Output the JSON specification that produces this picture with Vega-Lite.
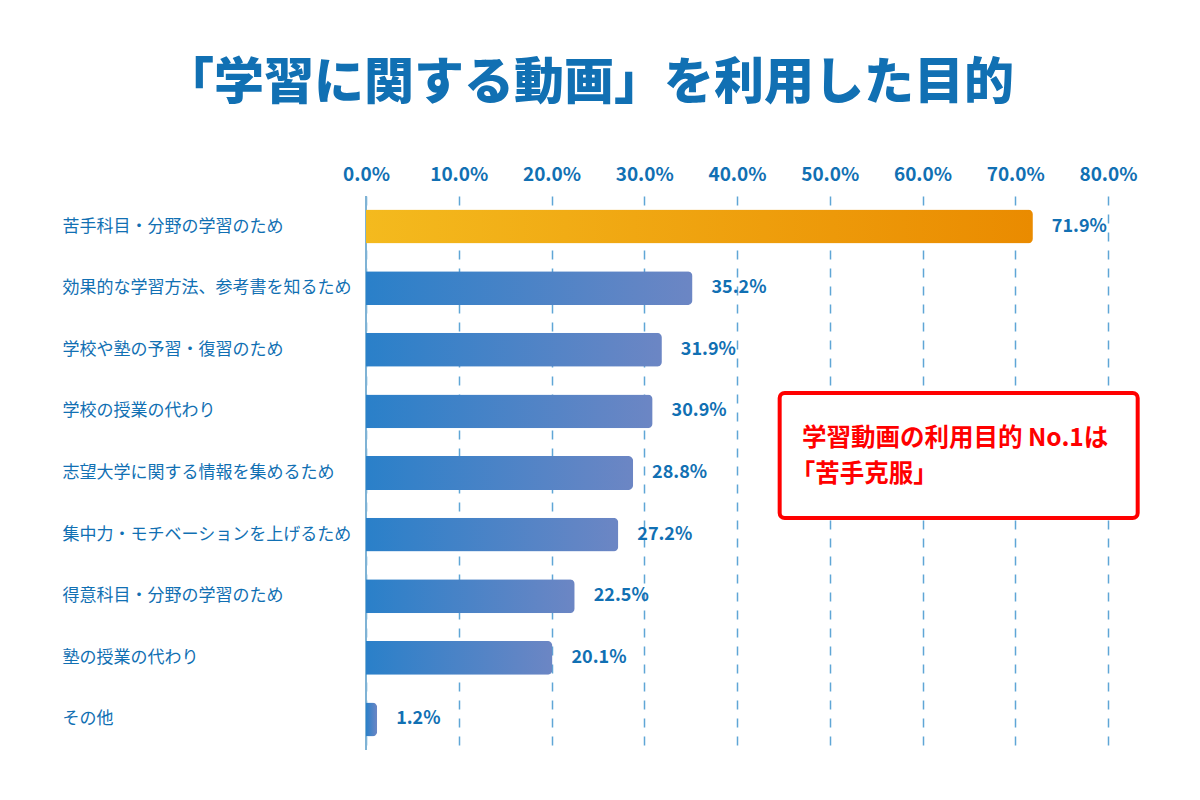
{
  "$schema": "https://vega.github.io/schema/vega-lite/v6.json",
  "width": 742,
  "height": 554,
  "autosize": {"type": "none"},
  "padding": {"left": 366, "top": 196, "right": 92, "bottom": 50},
  "background": "white",
  "config": {
    "font": "Noto Sans CJK JP",
    "view": {"stroke": null}
  },
  "title": {
    "text": "「学習に関する動画」を利用した目的",
    "font": "Noto Sans CJK JP",
    "fontSize": 50,
    "fontWeight": 900,
    "color": "#1170b3",
    "anchor": "middle",
    "frame": "group",
    "dx": -148,
    "offset": 56
  },
  "datasets": {
    "bars": [
      {"purpose": "苦手科目・分野の学習のため", "pct": 71.9, "label": "71.9%", "top": "yes"},
      {"purpose": "効果的な学習方法、参考書を知るため", "pct": 35.2, "label": "35.2%", "top": "no"},
      {"purpose": "学校や塾の予習・復習のため", "pct": 31.9, "label": "31.9%", "top": "no"},
      {"purpose": "学校の授業の代わり", "pct": 30.9, "label": "30.9%", "top": "no"},
      {"purpose": "志望大学に関する情報を集めるため", "pct": 28.8, "label": "28.8%", "top": "no"},
      {"purpose": "集中力・モチベーションを上げるため", "pct": 27.2, "label": "27.2%", "top": "no"},
      {"purpose": "得意科目・分野の学習のため", "pct": 22.5, "label": "22.5%", "top": "no"},
      {"purpose": "塾の授業の代わり", "pct": 20.1, "label": "20.1%", "top": "no"},
      {"purpose": "その他", "pct": 1.2, "label": "1.2%", "top": "no"}
    ],
    "note": [
      {"x": 44.6, "x2": 83.2, "y": 3.2, "y2": 5.23}
    ],
    "noteText": [
      {"x": 47.0, "y": 3.95, "t": "学習動画の利用目的 No.1は"},
      {"x": 45.8, "y": 4.53, "t": "「苦手克服」"}
    ]
  },
  "layer": [
    {
      "layer": [
        {
          "data": {"name": "bars"},
          "mark": {"type": "bar", "opacity": 0},
          "encoding": {
            "y": {
              "field": "purpose", "type": "nominal", "sort": null,
              "scale": {"paddingInner": 0.45, "paddingOuter": 0.22},
              "axis": {
                "title": null, "ticks": false, "domain": false, "grid": false,
                "labelAlign": "left", "labelPadding": 304, "labelFontSize": 17,
                "labelColor": "#1170b3", "labelFont": "Noto Sans CJK JP", "labelLimit": 400
              }
            },
            "x": {
              "field": "pct", "type": "quantitative",
              "scale": {"domain": [0, 80], "nice": false},
              "axis": {
                "orient": "top", "title": null, "values": [0, 10, 20, 30, 40, 50, 60, 70, 80],
                "labelExpr": "format(datum.value, '.1f') + '%'",
                "labelFontSize": 19, "labelFontWeight": "bold", "labelColor": "#1170b3",
                "labelPadding": 12, "labelFlush": false, "labelOverlap": false,
                "ticks": false, "domain": false,
                "grid": true, "gridColor": "#5fa6d6", "gridDash": [9, 9], "gridWidth": 1.5
              }
            }
          }
        },
        {
          "data": {"name": "bars"},
          "mark": {"type": "rule", "color": "#7fb3d5", "strokeWidth": 2},
          "encoding": {"x": {"datum": 0, "type": "quantitative"}}
        },
        {
          "data": {"name": "bars"},
          "transform": [{"filter": "datum.top == 'yes'"}],
          "mark": {
            "type": "bar", "cornerRadiusEnd": 5,
            "color": {
              "gradient": "linear", "x1": 0, "x2": 1, "y1": 0, "y2": 0,
              "stops": [{"offset": 0, "color": "#f4ba1e"}, {"offset": 1, "color": "#ea8b00"}]
            }
          },
          "encoding": {
            "y": {"field": "purpose", "type": "nominal", "sort": null},
            "x": {"field": "pct", "type": "quantitative"}
          }
        },
        {
          "data": {"name": "bars"},
          "transform": [{"filter": "datum.top == 'no'"}],
          "mark": {
            "type": "bar", "cornerRadiusEnd": 5,
            "color": {
              "gradient": "linear", "x1": 0, "x2": 1, "y1": 0, "y2": 0,
              "stops": [{"offset": 0, "color": "#2a80c9"}, {"offset": 1, "color": "#6c86c4"}]
            }
          },
          "encoding": {
            "y": {"field": "purpose", "type": "nominal", "sort": null},
            "x": {"field": "pct", "type": "quantitative"}
          }
        },
        {
          "data": {"name": "bars"},
          "mark": {"type": "text", "align": "left", "dx": 19, "fontSize": 18, "fontWeight": "bold", "color": "#1170b3"},
          "encoding": {
            "y": {"field": "purpose", "type": "nominal", "sort": null},
            "x": {"field": "pct", "type": "quantitative"},
            "text": {"field": "label"}
          }
        }
      ]
    },
    {
      "layer": [
        {
          "data": {"name": "note"},
          "mark": {"type": "rect", "fill": "white", "stroke": "#ff0000", "strokeWidth": 4, "cornerRadius": 5, "clip": false},
          "encoding": {
            "x": {"field": "x", "type": "quantitative"},
            "x2": {"field": "x2"},
            "y": {"field": "y", "type": "quantitative", "scale": {"domain": [0, 9], "reverse": true}, "axis": null},
            "y2": {"field": "y2"}
          }
        },
        {
          "data": {"name": "noteText"},
          "mark": {"type": "text", "align": "left", "baseline": "middle", "fontSize": 24.5, "fontWeight": "bold", "color": "#ff0000"},
          "encoding": {
            "x": {"field": "x", "type": "quantitative"},
            "y": {"field": "y", "type": "quantitative", "scale": {"domain": [0, 9], "reverse": true}, "axis": null},
            "text": {"field": "t"}
          }
        }
      ]
    }
  ],
  "resolve": {"scale": {"y": "independent"}}
}
